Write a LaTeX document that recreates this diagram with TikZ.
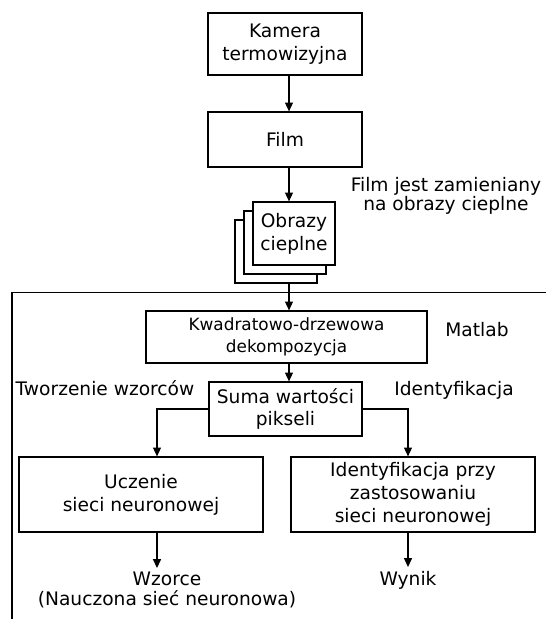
\documentclass[tikz,border=0pt]{standalone}
\usepackage{fontspec}
\setmainfont{DejaVu Sans}
\usetikzlibrary{arrows.meta, positioning}

\begin{document}
\begin{tikzpicture}[
    x=0.02cm, y=-0.02cm,
    box/.style={draw, fill=white, line width=0.7pt, align=center, inner sep=0pt, font=\fontsize{10.6}{13}\selectfont},
    lbl/.style={align=center, inner sep=2pt, font=\fontsize{10.6}{13}\selectfont},
    arr/.style={-{Triangle[length=5pt, width=4.5pt]}, line width=0.7pt},
]
\useasboundingbox (0,0) rectangle (546,619);
\coordinate (axis) at (289,0);
\coordinate (lcol) at (157,0);
\coordinate (rcol) at (408,0);

% Camera and film
\node[box, minimum width=3.08cm, minimum height=1.24cm] (kamera) at (285,44) {Kamera\\termowizyjna};
\node[box, minimum width=3.08cm, minimum height=1.1cm] (film) at (285,139.5) {Film};
\node[lbl, font=\fontsize{10.6}{10.5}\selectfont] (filmlbl) at (446,196) {Film jest zamieniany\\na obrazy cieplne};

% Stack of thermal images
\node[box, minimum width=1.64cm, minimum height=1.26cm] (obr3) at (276,251.5) {};
\node[box, minimum width=1.64cm, minimum height=1.26cm] (obr2) at (285,242.5) {};
\node[box, minimum width=1.64cm, minimum height=1.26cm] (obr) at (294,233.5) {Obrazy\\cieplne};

\draw[arr] (kamera.south -| axis) -- (film.north -| axis);
\draw[arr] (film.south -| axis) -- (obr.north -| axis);

% Matlab part
\draw[line width=0.7pt] (546,292.5) -- (12,292.5) -- (12,619);
\node[lbl, anchor=base] (matlab) at (477,336) {Matlab};
\node[box, minimum width=5.62cm, minimum height=1.04cm, font=\fontsize{9.6}{12.5}\selectfont] (kwadrat) at (286.5,337) {Kwadratowo-drzewowa\\dekompozycja};
\node[box, minimum width=3.06cm, minimum height=1.08cm] (suma) at (285.5,409) {Suma wartości\\pikseli};
\node[lbl, anchor=base] (tworz) at (105,395) {Tworzenie wzorców};
\node[lbl, anchor=base] (ident) at (454,395) {Identyfikacja};

\draw[arr] (obr3.south -| axis) -- (kwadrat.north -| axis);
\draw[arr] (kwadrat.south -| axis) -- (suma.north -| axis);

% Two branches
\node[box, minimum width=4.88cm, minimum height=1.5cm] (ucz) at (141,494.5) {Uczenie\\sieci neuronowej};
\node[box, minimum width=4.88cm, minimum height=1.5cm] (idbox) at (413,494.5) {Identyfikacja przy\\zastosowaniu\\sieci neuronowej};
\node[lbl, font=\fontsize{10.6}{11.5}\selectfont] (wzorce) at (167,590) {Wzorce\\(Nauczona sieć neuronowa)};
\node[lbl, anchor=base] (wynik) at (408,585) {Wynik};

\draw[arr] (suma.west) -| (ucz.north -| lcol);
\draw[arr] (suma.east) -| (idbox.north -| rcol);
\draw[arr] (ucz.south -| lcol) -- (wzorce.north -| lcol);
\draw[arr] (idbox.south -| rcol) -- (wynik.north -| rcol);

\end{tikzpicture}
\end{document}
